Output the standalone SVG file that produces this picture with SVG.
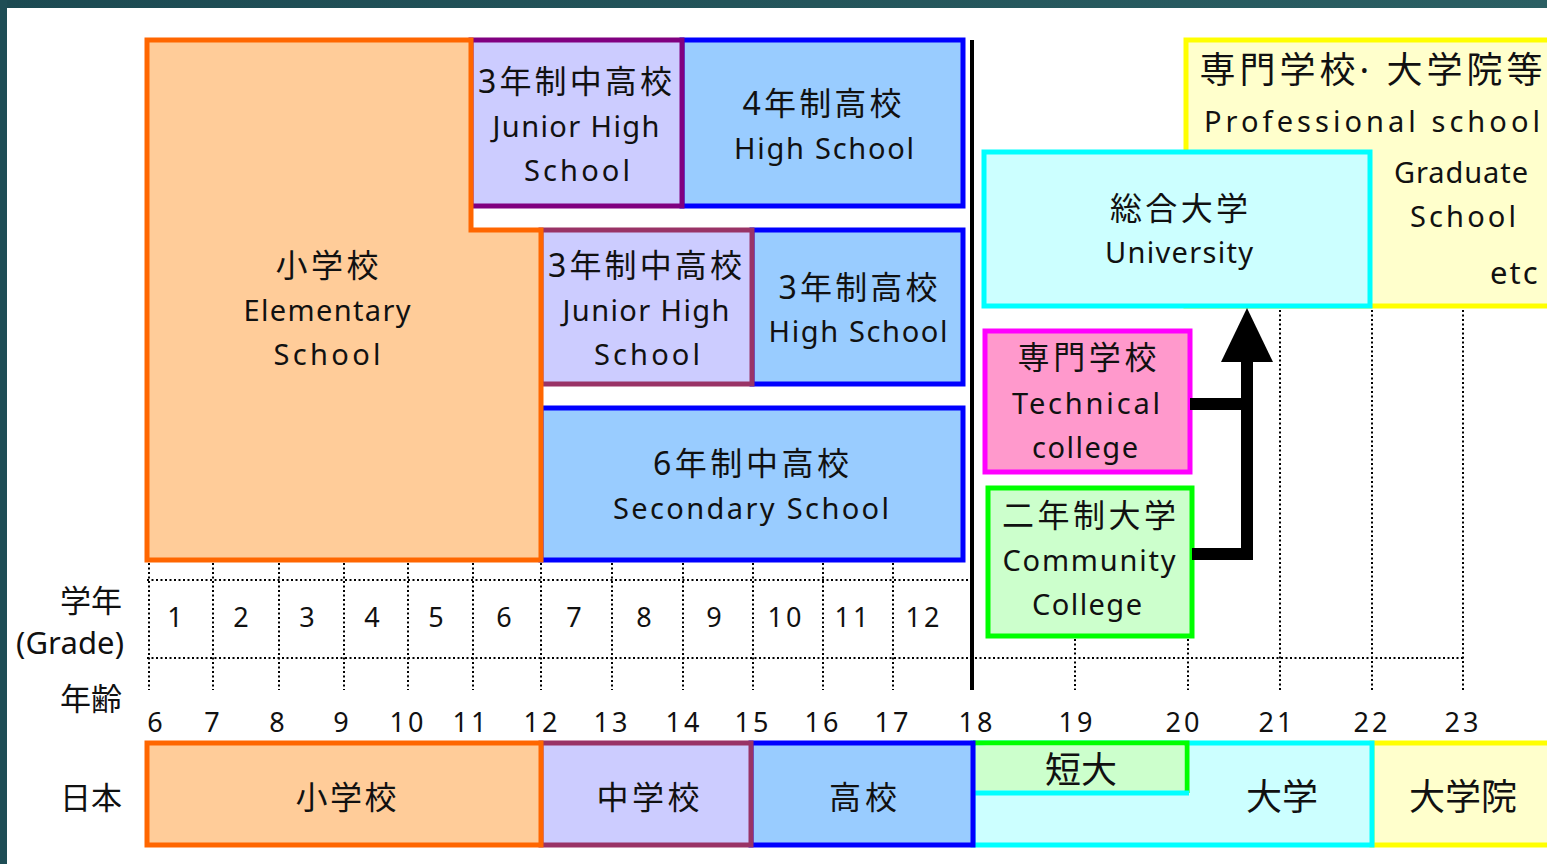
<svg xmlns="http://www.w3.org/2000/svg" width="1547" height="864" viewBox="0 0 1547 864">
<defs>
<linearGradient id="frame" x1="0" y1="0" x2="1" y2="0">
<stop offset="0" stop-color="#1c4a52"/><stop offset="1" stop-color="#2b5f63"/>
</linearGradient>
</defs>
<style>
text{font-family:"Noto Sans","Noto Sans CJK JP",sans-serif;fill:#111;text-anchor:middle}
.jp{font-size:32px}
.jpl{font-size:36px}
.en{font-size:29px}
.num{font-size:27px}
.lbl{font-size:31px}
.box{stroke-width:5}
.orange{fill:#ffcc99;stroke:#ff6600}
.purple{fill:#ccccff;stroke:#800080}
.maroon{fill:#ccccff;stroke:#993366}
.blue{fill:#99ccff;stroke:#0000ff}
.yellow{fill:#ffffcc;stroke:#ffff00}
.cyan{fill:#ccffff;stroke:#00ffff}
.pink{fill:#ff99cc;stroke:#ff00ff}
.green{fill:#ccffcc;stroke:#00ff00}
.dot{stroke:#000;stroke-width:2;stroke-dasharray:2 2.5;fill:none}
.bar{stroke:#000;fill:none}
</style>
<rect x="0" y="0" width="1547" height="864" fill="#ffffff"/>
<rect x="0" y="0" width="1547" height="8" fill="url(#frame)"/>
<rect x="0" y="0" width="7" height="864" fill="#1e4d55"/>

<g id="grid">
<line class="dot" x1="147" y1="580" x2="972" y2="580"/>
<line class="dot" x1="147" y1="658" x2="1465" y2="658"/>
<line class="dot" x1="149" y1="563" x2="149" y2="690"/>
<line class="dot" x1="213" y1="563" x2="213" y2="690"/>
<line class="dot" x1="279" y1="563" x2="279" y2="690"/>
<line class="dot" x1="344" y1="563" x2="344" y2="690"/>
<line class="dot" x1="408" y1="563" x2="408" y2="690"/>
<line class="dot" x1="473" y1="563" x2="473" y2="690"/>
<line class="dot" x1="541" y1="563" x2="541" y2="690"/>
<line class="dot" x1="612" y1="563" x2="612" y2="690"/>
<line class="dot" x1="683" y1="563" x2="683" y2="690"/>
<line class="dot" x1="753" y1="563" x2="753" y2="690"/>
<line class="dot" x1="823" y1="563" x2="823" y2="690"/>
<line class="dot" x1="893" y1="563" x2="893" y2="690"/>
<line class="dot" x1="1075" y1="639" x2="1075" y2="690"/>
<line class="dot" x1="1188" y1="639" x2="1188" y2="690"/>
<line class="dot" x1="1280" y1="310" x2="1280" y2="690"/>
<line class="dot" x1="1372" y1="310" x2="1372" y2="690"/>
<line class="dot" x1="1463" y1="310" x2="1463" y2="690"/>
<line x1="972" y1="40" x2="972" y2="690" stroke="#000" stroke-width="4"/>
</g>

<g id="hs4">
<rect class="box blue" x="682" y="40" width="281" height="166"/>
<text class="jp" x="822" y="115" textLength="159" lengthAdjust="spacing">4年制高校</text>
<text class="en" x="824" y="159" textLength="180" lengthAdjust="spacing">High School</text>
</g>
<g id="jhs3a">
<rect class="box purple" x="471" y="40" width="211" height="166"/>
<text class="jp" x="575" y="93" textLength="194" lengthAdjust="spacing">3年制中高校</text>
<text class="en" x="576" y="137" textLength="167" lengthAdjust="spacing">Junior High</text>
<text class="en" x="577" y="181" textLength="106" lengthAdjust="spacing">School</text>
</g>
<g id="hs3">
<rect class="box blue" x="752" y="230" width="211" height="154"/>
<text class="jp" x="858" y="299" textLength="159" lengthAdjust="spacing">3年制高校</text>
<text class="en" x="858" y="342" textLength="179" lengthAdjust="spacing">High School</text>
</g>
<g id="jhs3b">
<rect class="box maroon" x="541" y="230" width="211" height="154"/>
<text class="jp" x="645" y="277" textLength="194" lengthAdjust="spacing">3年制中高校</text>
<text class="en" x="646" y="321" textLength="167" lengthAdjust="spacing">Junior High</text>
<text class="en" x="647" y="365" textLength="106" lengthAdjust="spacing">School</text>
</g>
<g id="sec6">
<rect class="box blue" x="541" y="408" width="422" height="152"/>
<text class="jp" x="751" y="475" textLength="196" lengthAdjust="spacing">6年制中高校</text>
<text class="en" x="751" y="519" textLength="276" lengthAdjust="spacing">Secondary School</text>
</g>
<g id="elementary">
<polygon class="box orange" points="147,40 471,40 471,230 541,230 541,560 147,560"/>
<text class="jp" x="327" y="277" textLength="103" lengthAdjust="spacing">小学校</text>
<text class="en" x="327" y="321" textLength="167" lengthAdjust="spacing">Elementary</text>
<text class="en" x="327" y="365" textLength="107" lengthAdjust="spacing">School</text>
</g>

<g id="graduate">
<rect class="box yellow" x="1186" y="40" width="400" height="266"/>
<text class="jpl" x="1371" y="83" textLength="343" lengthAdjust="spacing">専門学校· 大学院等</text>
<text class="en" x="1372" y="132" textLength="336" lengthAdjust="spacing">Professional school</text>
<text class="en" x="1461" y="183" textLength="134" lengthAdjust="spacing">Graduate</text>
<text class="en" x="1463" y="227" textLength="106" lengthAdjust="spacing">School</text>
<text x="1490" y="284" style="text-anchor:start;font-size:31px" letter-spacing="2">etc</text>
</g>
<g id="university">
<rect class="box cyan" x="984" y="152" width="386" height="154"/>
<text class="jp" x="1179" y="220" textLength="138" lengthAdjust="spacing">総合大学</text>
<text class="en" x="1179" y="263" textLength="148" lengthAdjust="spacing">University</text>
</g>
<g id="technical">
<rect class="box pink" x="985" y="331" width="205" height="141"/>
<text class="jp" x="1087" y="369" textLength="139" lengthAdjust="spacing">専門学校</text>
<text class="en" x="1086" y="414" textLength="148" lengthAdjust="spacing">Technical</text>
<text class="en" x="1085" y="458" textLength="106" lengthAdjust="spacing">college</text>
</g>
<g id="community">
<rect class="box green" x="988" y="488" width="204" height="148"/>
<text class="jp" x="1089" y="527" textLength="174" lengthAdjust="spacing">二年制大学</text>
<text class="en" x="1089" y="571" textLength="173" lengthAdjust="spacing">Community</text>
<text class="en" x="1087" y="615" textLength="110" lengthAdjust="spacing">College</text>
</g>

<g id="connectors">
<path class="bar" stroke-width="12" d="M1190,404 H1247"/>
<path class="bar" stroke-width="12" d="M1192,554 H1247 V356"/>
<polygon points="1221,362 1273,362 1247,308" fill="#000"/>
</g>

<g id="labels">
<text class="lbl" x="91" y="612">学年</text>
<text class="lbl" x="70" y="654" textLength="108" lengthAdjust="spacing">(Grade)</text>
<text class="lbl" x="91" y="710">年齢</text>
<text class="lbl" x="91" y="809">日本</text>
</g>
<g id="grades">
<text class="num" x="175" y="627">1</text>
<text class="num" x="241" y="627">2</text>
<text class="num" x="307" y="627">3</text>
<text class="num" x="372" y="627">4</text>
<text class="num" x="436" y="627">5</text>
<text class="num" x="504" y="627">6</text>
<text class="num" x="574" y="627">7</text>
<text class="num" x="644" y="627">8</text>
<text class="num" x="714" y="627">9</text>
<text class="num" x="786" y="627" letter-spacing="3">10</text>
<text class="num" x="853" y="627" letter-spacing="3">11</text>
<text class="num" x="924" y="627" letter-spacing="3">12</text>
</g>
<g id="ages">
<text class="num" x="155" y="732">6</text>
<text class="num" x="212" y="732">7</text>
<text class="num" x="277" y="732">8</text>
<text class="num" x="341" y="732">9</text>
<text class="num" x="408" y="732" letter-spacing="3">10</text>
<text class="num" x="471" y="732" letter-spacing="3">11</text>
<text class="num" x="542" y="732" letter-spacing="3">12</text>
<text class="num" x="612" y="732" letter-spacing="3">13</text>
<text class="num" x="684" y="732" letter-spacing="3">14</text>
<text class="num" x="753" y="732" letter-spacing="3">15</text>
<text class="num" x="823" y="732" letter-spacing="3">16</text>
<text class="num" x="893" y="732" letter-spacing="3">17</text>
<text class="num" x="977" y="732" letter-spacing="3">18</text>
<text class="num" x="1077" y="732" letter-spacing="3">19</text>
<text class="num" x="1184" y="732" letter-spacing="3">20</text>
<text class="num" x="1277" y="732" letter-spacing="3">21</text>
<text class="num" x="1372" y="732" letter-spacing="3">22</text>
<text class="num" x="1463" y="732" letter-spacing="3">23</text>
</g>

<g id="jp-graduate">
<rect class="box yellow" x="1372" y="743" width="200" height="102"/>
<text class="jpl" x="1463" y="810">大学院</text>
</g>
<g id="jp-university">
<rect class="box cyan" x="973" y="743" width="399" height="102"/>
<text class="jpl" x="1282" y="810">大学</text>
</g>
<g id="jp-junior-college">
<path class="box" d="M973,743 H1187 V793" fill="#ccffcc" stroke="#00ff00"/>
<rect x="975.5" y="745.5" width="209" height="45" fill="#ccffcc"/>
<line x1="973" y1="793" x2="1189" y2="793" stroke="#00ffff" stroke-width="5"/>
<text class="jpl" x="1081" y="783">短大</text>
</g>
<g id="jp-high">
<rect class="box blue" x="751" y="743" width="222" height="102"/>
<text class="jp" x="863" y="809" textLength="68" lengthAdjust="spacing">高校</text>
</g>
<g id="jp-junior-high">
<rect class="box maroon" x="541" y="743" width="210" height="102"/>
<text class="jp" x="648" y="809" textLength="103" lengthAdjust="spacing">中学校</text>
</g>
<g id="jp-elementary">
<rect class="box orange" x="147" y="743" width="394" height="102"/>
<text class="jp" x="346" y="809" textLength="101" lengthAdjust="spacing">小学校</text>
</g>
</svg>
